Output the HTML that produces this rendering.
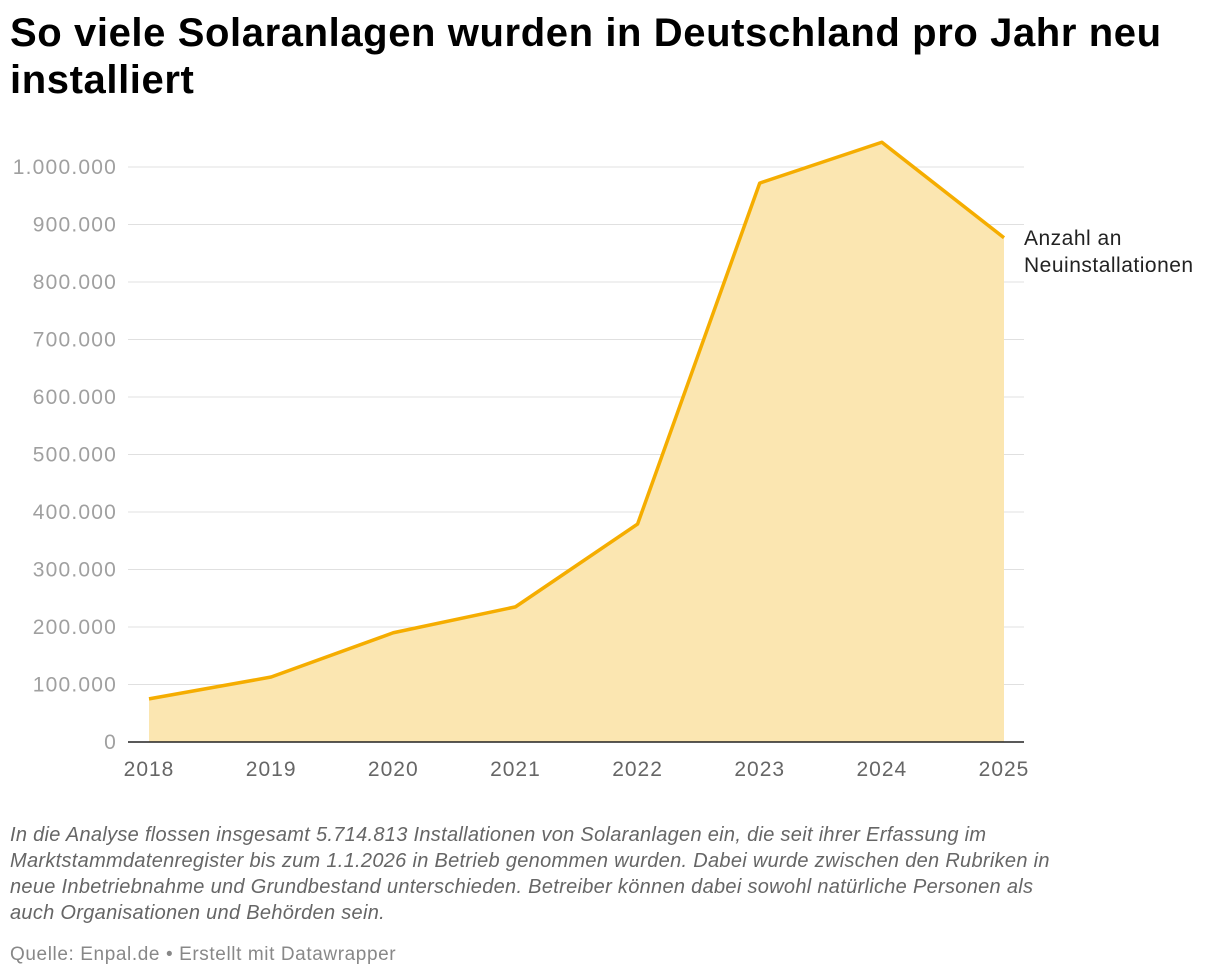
<!DOCTYPE html>
<html><head><meta charset="utf-8"><style>
body{margin:0;width:1220px;height:980px;background:#fff;font-family:"Liberation Sans",sans-serif;overflow:hidden;position:relative}
#title{position:absolute;left:10px;top:10px;width:1200px;font-size:40px;letter-spacing:0.6px;font-weight:bold;line-height:47px;color:#000;margin:0}
#notes{position:absolute;left:10px;top:822px;width:1200px;white-space:nowrap;font-size:20px;letter-spacing:0.3px;line-height:26px;font-style:italic;color:#666}
#source{position:absolute;left:10px;top:944px;font-size:19px;letter-spacing:0.6px;color:#888}
svg{position:absolute;left:0;top:0}
</style></head><body>
<h1 id="title">So viele Solaranlagen wurden in Deutschland pro Jahr neu installiert</h1>
<svg id="chart" width="1220" height="980"></svg>
<div id="notes">In die Analyse flossen insgesamt 5.714.813 Installationen von Solaranlagen ein, die seit ihrer Erfassung im<br>Marktstammdatenregister bis zum 1.1.2026 in Betrieb genommen wurden. Dabei wurde zwischen den Rubriken in<br>neue Inbetriebnahme und Grundbestand unterschieden. Betreiber können dabei sowohl natürliche Personen als<br>auch Organisationen und Behörden sein.</div>
<div id="source">Quelle: Enpal.de • Erstellt mit Datawrapper</div>
<script>
const years=["2018","2019","2020","2021","2022","2023","2024","2025"];
const installs=[75000,113000,190000,235000,379000,972000,1043000,877000];
const yTicks=[0,100000,200000,300000,400000,500000,600000,700000,800000,900000,1000000];
const yTickLabels=["0","100.000","200.000","300.000","400.000","500.000","600.000","700.000","800.000","900.000","1.000.000"];
const ns="http://www.w3.org/2000/svg";
const svg=document.getElementById('chart');
const x=i=>149+i*(1004-149)/(years.length-1);
const y=v=>742-v*575/1000000;
function mk(t,a,p){const e=document.createElementNS(ns,t);for(const k in a)e.setAttribute(k,a[k]);(p||svg).appendChild(e);return e;}
yTicks.forEach((v,i)=>{
 if(v>0){const g=mk('line',{x1:128,x2:1024,y1:y(v),y2:y(v),stroke:'#e0e0e0','stroke-width':1});
 
 }
 const t=mk('text',{x:117,y:y(v)+7,'text-anchor':'end','font-size':21,'letter-spacing':1.2,fill:'#a0a0a0','font-family':'Liberation Sans, sans-serif'});
 t.textContent=yTickLabels[i];
 
 
});
let pts=installs.map((v,i)=>x(i)+','+y(v)).join(' ');
const area=mk('polygon',{points:x(0)+','+y(0)+' '+pts+' '+x(installs.length-1)+','+y(0),fill:'#fbe6b1'});


const line=mk('polyline',{points:pts,fill:'none',stroke:'#f5ad00','stroke-width':3.5,'stroke-linejoin':'round'});


const base=mk('line',{x1:128,x2:1024,y1:y(0),y2:y(0),stroke:'#222','stroke-width':1.5});


years.forEach((yr,i)=>{
 const t=mk('text',{x:x(i),y:776,'text-anchor':'middle','font-size':21,'letter-spacing':1,fill:'#666','font-family':'Liberation Sans, sans-serif'});
 t.textContent=yr;
 
 
});
const lab=mk('text',{x:1024,y:245,'font-size':21,'letter-spacing':0.5,fill:'#222','font-family':'Liberation Sans, sans-serif'});


const s1=mk('tspan',{x:1024,dy:0},lab);s1.textContent='Anzahl an';
const s2=mk('tspan',{x:1024,dy:27},lab);s2.textContent='Neuinstallationen';
</script>
</body></html>
